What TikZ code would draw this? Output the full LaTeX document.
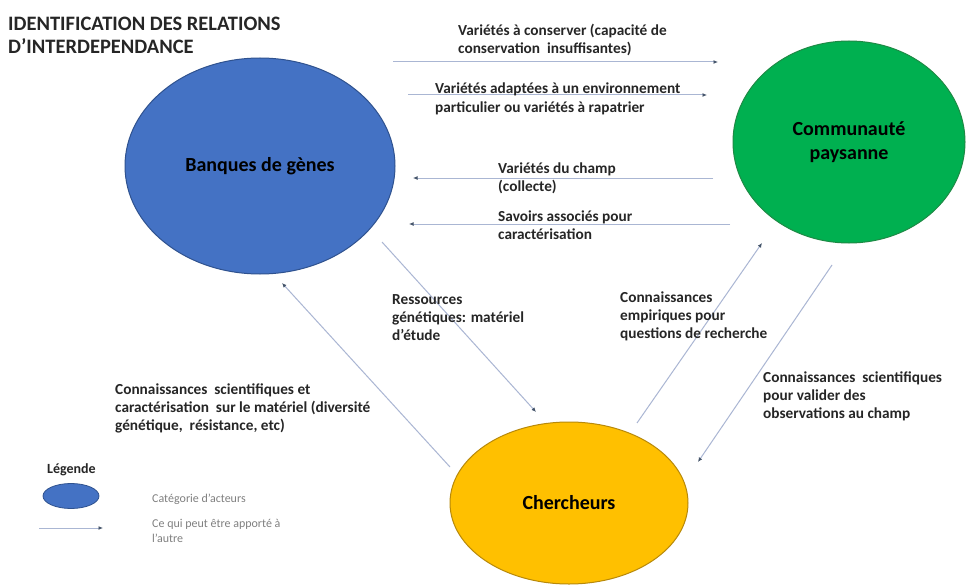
\documentclass[tikz,border=0pt]{standalone}
\usepackage{fontspec}
\setmainfont{Carlito}
\usetikzlibrary{shapes.geometric,arrows.meta}
\definecolor{bBlue}{HTML}{4472C4}
\definecolor{bBlueD}{HTML}{2F528F}
\definecolor{bGreen}{HTML}{00B050}
\definecolor{bGreenD}{HTML}{1E8A45}
\definecolor{bGold}{HTML}{FFC000}
\definecolor{bGoldD}{HTML}{B8890A}
\definecolor{lineC}{HTML}{AAB6D3}
\definecolor{tipC}{HTML}{44546A}
\definecolor{txtC}{HTML}{262626}
\definecolor{greyT}{HTML}{808080}
\begin{document}
\begin{tikzpicture}[x=1pt,y=-1pt,
  actor/.style={ellipse, inner sep=0pt, line width=1pt, align=center,
    font=\fontsize{20}{24}\selectfont\bfseries, text=black},
  flow/.style={draw=lineC, line width=1pt, -{Latex[length=4.5pt,width=4pt,color=tipC]}},
  lbl/.style={anchor=base west, inner sep=0pt, align=left,
    font=\fontsize{15.3}{18}\selectfont\bfseries, text=txtC},
  legtxt/.style={anchor=base west, inner sep=0pt, align=left,
    font=\fontsize{12}{15}\selectfont, text=greyT}]
\useasboundingbox[fill=white] (0,0) rectangle (967,586);

% title (base anchor = baseline of last line)
\node[anchor=base west, inner sep=0pt, align=left,
  font=\fontsize{20.5}{23}\selectfont\bfseries, text=txtC] (title) at (8,54)
  {IDENTIFICATION DES RELATIONS\\D’INTERDEPENDANCE};

% actors
\node[actor, fill=bBlue, draw=bBlueD, minimum width=270pt, minimum height=216pt]
  (banques) at (260,166) {Banques de gènes};
\node[actor, fill=bGreen, draw=bGreenD, minimum width=232pt, minimum height=202pt]
  (communaute) at (849,142) {Communauté\\paysanne};
\node[actor, fill=bGold, draw=bGoldD, minimum width=238pt, minimum height=162pt]
  (chercheurs) at (569,503) {Chercheurs};

% arrow end points
\coordinate (a1s) at (393,62);  \coordinate (a1e) at (718,62);
\coordinate (a2s) at (408,95);  \coordinate (a2e) at (707,95);
\coordinate (a3s) at (713,178); \coordinate (a3e) at (413,178);
\coordinate (a4s) at (730,224); \coordinate (a4e) at (409,224);
\coordinate (a5s) at (382,242); \coordinate (a5e) at (536,412);
\coordinate (a6s) at (450,467); \coordinate (a6e) at (282,283);
\coordinate (a7s) at (637,423); \coordinate (a7e) at (762,243);
\coordinate (a8s) at (832,265); \coordinate (a8e) at (698,462);

\draw[flow] (a1s) -- (a1e);
\draw[flow] (a2s) -- (a2e);
\draw[flow] (a3s) -- (a3e);
\draw[flow] (a4s) -- (a4e);
\draw[flow] (a5s) -- (a5e);
\draw[flow] (a6s) -- (a6e);
\draw[flow] (a7s) -- (a7e);
\draw[flow] (a8s) -- (a8e);

% labels (anchor at baseline of last line)
\node[lbl] (l1) at (458,54) {Variétés à conserver (capacité de\\conservation\ \ insuffisantes)};
\node[lbl] (l2) at (435,112) {Variétés adaptées à un environnement\\particulier ou variétés à rapatrier};
\node[lbl] (l3) at (498,191) {Variétés du champ\\(collecte)};
\node[lbl] (l4) at (498,239) {Savoirs associés pour\\caractérisation};
\node[lbl] (l5) at (392,340) {Ressources\\génétiques: matériel\\d’étude};
\node[lbl] (l6) at (115,430) {Connaissances\ \ scientifiques et\\caractérisation\ \ sur le matériel (diversité\\génétique,\ \ résistance, etc)};
\node[lbl] (l7) at (620,338) {Connaissances\\empiriques pour\\questions de recherche};
\node[lbl] (l8) at (763,418) {Connaissances\ \ scientifiques\\pour valider des\\observations au champ};

% legend
\node[anchor=base west, inner sep=0pt, font=\fontsize{14}{17}\selectfont\bfseries, text=txtC]
  (legende) at (47,473) {Légende};
\node[ellipse, fill=bBlue, draw=bBlueD, line width=0.8pt, minimum width=56pt, minimum height=25pt, inner sep=0pt]
  (legell) at (71,496) {};
\coordinate (legs) at (39,528); \coordinate (lege) at (103,528);
\draw[flow] (legs) -- (lege);
\node[legtxt] (leg1) at (152,502) {Catégorie d’acteurs};
\node[legtxt] (leg2) at (152,542) {Ce qui peut être apporté à\\l’autre};
\end{tikzpicture}
\end{document}
